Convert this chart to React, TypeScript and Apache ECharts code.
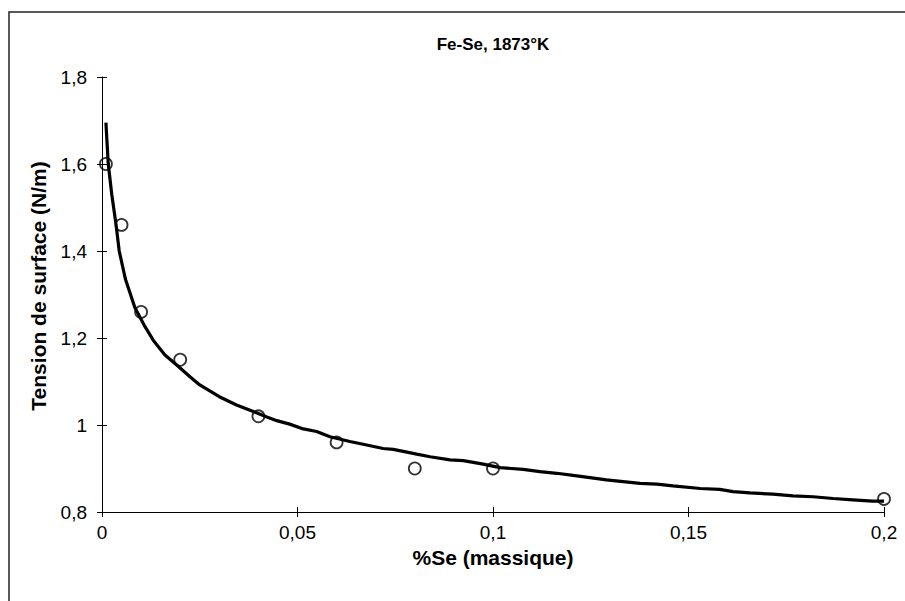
import React, { useEffect, useRef } from "react";
import * as echarts from "echarts";

const chartTitle = "Fe-Se, 1873°K";
const xAxisTitle = "%Se (massique)";
const yAxisTitle = "Tension de surface (N/m)";

// measured points (open circles)
const measuredX = [0.001, 0.005, 0.01, 0.02, 0.04, 0.06, 0.08, 0.1, 0.2];
const measuredY = [1.6, 1.46, 1.26, 1.15, 1.02, 0.96, 0.9, 0.9, 0.83];

// fitted curve (thick line)
const curveX = [
  0.001, 0.0016, 0.0025, 0.0036, 0.0044, 0.006, 0.0084, 0.011, 0.0131, 0.0161,
  0.0191, 0.0225, 0.025, 0.03, 0.0344, 0.0387, 0.042, 0.0447, 0.048, 0.0515,
  0.0549, 0.0583, 0.0634, 0.0677, 0.0719, 0.0745, 0.0805, 0.0839, 0.089, 0.0924,
  0.0975, 0.1018, 0.1077, 0.112, 0.1163, 0.1205, 0.1248, 0.129, 0.1333, 0.1376,
  0.1419, 0.146, 0.153, 0.158, 0.1614, 0.1657, 0.1716, 0.1767, 0.1819, 0.187,
  0.192, 0.197, 0.2,
];
const curveY = [
  1.695, 1.6, 1.53, 1.46, 1.4, 1.335, 1.27, 1.226, 1.195, 1.161,
  1.138, 1.111, 1.092, 1.065, 1.046, 1.031, 1.019, 1.01, 1.002, 0.991,
  0.985, 0.973, 0.962, 0.954, 0.946, 0.944, 0.933, 0.927, 0.92, 0.918,
  0.91, 0.902, 0.898, 0.893, 0.889, 0.884, 0.879, 0.874, 0.87, 0.866,
  0.864, 0.86, 0.854, 0.852, 0.847, 0.844, 0.841, 0.837, 0.835, 0.831,
  0.828, 0.825, 0.825,
];

const xMin = 0, xMax = 0.2, xStep = 0.05;
const yMin = 0.8, yMax = 1.8, yStep = 0.2;

const FONT = "'Liberation Sans', Arial, sans-serif";
const fmt = (v: number) => String(+v.toFixed(3)).replace(".", ",");

export default function App() {
  const ref = useRef<HTMLDivElement>(null);
  useEffect(() => {
    if (!ref.current) return;
    const chart = echarts.init(ref.current, undefined, { renderer: "svg" });
    const grid = { left: 102, right: 21, top: 77, bottom: 89 };
    const axisLine = { show: true, lineStyle: { color: "#000", width: 1 } };
    const tick = (inside: boolean) => ({ show: true, inside, length: 5, lineStyle: { color: "#000", width: 1 } });
    chart.setOption({
      animation: false,
      backgroundColor: "#fff",
      grid,
      xAxis: [
        {
          type: "value", min: xMin, max: xMax, interval: xStep,
          axisLine, axisTick: tick(false), splitLine: { show: false },
          axisLabel: { formatter: fmt, color: "#000", fontFamily: FONT, fontSize: 19, margin: 11 },
        },
        {
          type: "value", min: xMin, max: xMax, interval: xStep, position: "bottom",
          axisLine: { show: false }, axisTick: tick(true), splitLine: { show: false },
          axisLabel: { show: false },
        },
      ],
      yAxis: [
        {
          type: "value", min: yMin, max: yMax, interval: yStep,
          axisLine, axisTick: tick(false), splitLine: { show: false },
          axisLabel: { formatter: fmt, color: "#000", fontFamily: FONT, fontSize: 19, margin: 15 },
        },
        {
          type: "value", min: yMin, max: yMax, interval: yStep, position: "left",
          axisLine: { show: false }, axisTick: tick(true), splitLine: { show: false },
          axisLabel: { show: false },
        },
      ],
      series: [
        {
          type: "line",
          data: curveX.map((x, i) => [x, curveY[i]]),
          showSymbol: false,
          symbol: "none",
          lineStyle: { color: "#000", width: 3.2 },
          z: 2,
        },
        {
          type: "scatter",
          data: measuredX.map((x, i) => [x, measuredY[i]]),
          symbol: "circle",
          symbolSize: 12,
          itemStyle: { color: "rgba(0,0,0,0)", borderColor: "#000", borderWidth: 1.8 },
          z: 3,
        },
      ],
      graphic: [
        {
          type: "rect", shape: { x: 9, y: 12, width: 910, height: 610 },
          style: { fill: "none", stroke: "#222", lineWidth: 1.5 }, silent: true,
        },
        {
          type: "text", x: 493, y: 44,
          style: { text: chartTitle, font: `bold 17px ${FONT}`, fill: "#000", align: "center", verticalAlign: "middle" },
        },
        {
          type: "text", x: 493, y: 557,
          style: { text: xAxisTitle, font: `bold 21px ${FONT}`, fill: "#000", align: "center", verticalAlign: "middle" },
        },
        {
          type: "text", x: 38, y: 286, rotation: Math.PI / 2,
          style: { text: yAxisTitle, font: `bold 21px ${FONT}`, fill: "#000", align: "center", verticalAlign: "middle" },
        },
      ],
    });
    return () => chart.dispose();
  }, []);
  return <div ref={ref} style={{ position: "fixed", left: 0, top: 0, width: 905, height: 601 }} />;
}
